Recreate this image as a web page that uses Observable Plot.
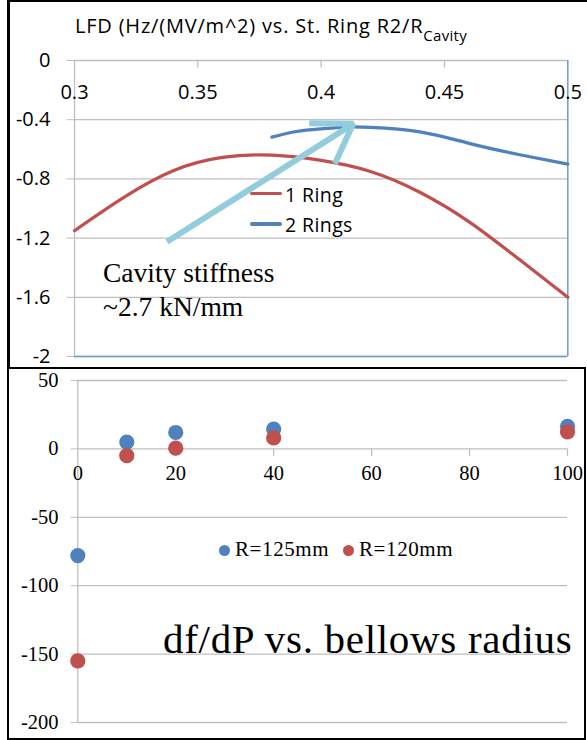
<!DOCTYPE html>
<html>
<head>
<meta charset="utf-8">
<script src="https://cdn.jsdelivr.net/npm/d3@7"></script>
<script src="https://cdn.jsdelivr.net/npm/@observablehq/plot@0.6"></script>
<style>
html, body { margin: 0; padding: 0; background: #fff; }
#root { position: relative; width: 587px; height: 740px; overflow: hidden; background: #fff; }
.abs { position: absolute; white-space: nowrap; line-height: 1; }
.sans { font-family: "Open Sans", sans-serif; color: #000; }
.serif { font-family: "Liberation Serif", "Times New Roman", serif; color: #000; }
.line { position: absolute; background: #000; }
</style>
</head>
<body>
<div id="root">
  <div id="topPlot" class="abs" style="left:0;top:0"></div>
  <div id="botPlot" class="abs" style="left:0;top:368px"></div>

  <!-- panel frames -->
  <div class="line" style="left:7px;top:0;width:2.5px;height:368px"></div>
  <div class="line" style="left:7px;top:0;width:580px;height:1.5px"></div>
  <div class="abs" style="left:7px;top:366.5px;width:579px;height:373.5px;border:2.5px solid #000;box-sizing:border-box"></div>

  <!-- top panel title -->
  <div class="abs sans" style="left:75px;top:15.5px;font-size:20px;letter-spacing:0.8px">LFD (Hz/(MV/m^2) vs. St. Ring R2/R<span style="font-size:15px;position:relative;top:8px;letter-spacing:0.3px">Cavity</span></div>

  <!-- top panel legend -->
  <div class="abs" style="left:250px;top:191.5px;width:32px;height:3.5px;background:#c0504d;border-radius:2px"></div>
  <div class="abs sans" id="lg1" style="left:285px;top:184.7px;font-size:19.5px;letter-spacing:0.4px"></div>
  <div class="abs" style="left:250px;top:222.3px;width:32px;height:3.5px;background:#4f81bd;border-radius:2px"></div>
  <div class="abs sans" id="lg2" style="left:285px;top:215px;font-size:19.5px;letter-spacing:0.4px"></div>

  <!-- annotation -->
  <div class="abs serif" style="left:103px;top:259px;font-size:27.5px">Cavity stiffness</div>
  <div class="abs serif" style="left:103px;top:292.5px;font-size:27.5px">~2.7 kN/mm</div>

  <!-- bottom legend -->
  <div class="abs" style="left:218.5px;top:544.5px;width:11px;height:11px;border-radius:50%;background:#4f81bd"></div>
  <div class="abs serif" id="lg3" style="left:235px;top:539.2px;font-size:21px;letter-spacing:0.6px"></div>
  <div class="abs" style="left:342.5px;top:544.5px;width:11px;height:11px;border-radius:50%;background:#c0504d"></div>
  <div class="abs serif" id="lg4" style="left:359px;top:539.2px;font-size:21px;letter-spacing:0.6px"></div>

  <!-- bottom big caption -->
  <div class="abs serif" style="left:163px;top:618.5px;font-size:41px;letter-spacing:0.7px">df/dP vs. bellows radius</div>
</div>

<script>
// ---------- Top chart data: LFD vs stiffening ring position ----------
const seriesNames = ["1 Ring", "2 Rings"];
const ring1X = [0.30, 0.32, 0.34, 0.36, 0.38, 0.40, 0.42, 0.44, 0.46, 0.48, 0.50];
const ring1Y = [-1.15, -0.925, -0.745, -0.655, -0.64, -0.675, -0.75, -0.89, -1.09, -1.34, -1.60];
const ring2X = [0.38, 0.39, 0.40, 0.41, 0.42, 0.44, 0.46, 0.48, 0.50];
const ring2Y = [-0.518, -0.48, -0.462, -0.45, -0.452, -0.482, -0.56, -0.635, -0.70];
const topXTicks = [0.3, 0.35, 0.4, 0.45, 0.5];
const topYTicks = [0, -0.4, -0.8, -1.2, -1.6, -2];
const arrowFrom = [0.3375, -1.225];
const arrowTo = [0.413, -0.428];

// ---------- Bottom chart data: df/dP vs bellows radius ----------
const bellowsNames = ["R=125mm", "R=120mm"];
const bellowsX = [0, 10, 20, 40, 100];
const r125 = [-78, 5, 12, 14.5, 16.5];
const r120 = [-155, -5, 0.5, 8, 12.5];
const botXTicks = [0, 20, 40, 60, 80, 100];
const botYTicks = [50, 0, -50, -100, -150, -200];

const RED = "#c0504d", BLUE = "#4f81bd", GRID = "#bfbfbf", FRAMEBLUE = "#6f9bd1", ARROW = "#93cddd";
const tickShape = { draw(ctx, l) { ctx.moveTo(0, 0); ctx.lineTo(0, -l); } };

document.getElementById("lg1").textContent = seriesNames[0];
document.getElementById("lg2").textContent = seriesNames[1];
document.getElementById("lg3").textContent = bellowsNames[0];
document.getElementById("lg4").textContent = bellowsNames[1];

const ring1 = ring1X.map((x, i) => ({x, y: ring1Y[i]}));
const ring2 = ring2X.map((x, i) => ({x, y: ring2Y[i]}));
const arrowData = [{x1: arrowFrom[0], y1: arrowFrom[1], x2: arrowTo[0], y2: arrowTo[1]}];

const topChart = Plot.plot({
  width: 587, height: 368,
  marginLeft: 74, marginRight: 19.7, marginTop: 60, marginBottom: 12,
  style: {fontFamily: "'Open Sans', sans-serif", fontSize: "20px", color: "#000", background: "transparent"},
  x: {domain: [0.3, 0.5], axis: null},
  y: {domain: [-2, 0], label: null},
  marks: [
    Plot.ruleY(topYTicks, {stroke: GRID, strokeWidth: 1.3}),
    Plot.axisY(topYTicks, {anchor: "left", tickSize: 7.5, tickPadding: 16.5, stroke: GRID, fill: "#000",
      fontSize: 20, tickFormat: d => String(d), label: null}),
    Plot.ruleX([0.3], {stroke: GRID, strokeWidth: 1.3}),
    Plot.vector(topXTicks.slice(1, -1), {x: d => d, y: 0, length: 6.5, rotate: 180, anchor: "start",
      shape: tickShape, stroke: GRID, strokeWidth: 1.3}),
    Plot.ruleX([0.5], {stroke: FRAMEBLUE, strokeWidth: 1.5}),
    Plot.ruleY([-2], {stroke: FRAMEBLUE, strokeWidth: 1.5}),
    Plot.text(topXTicks, {x: d => d, y: 0, dy: 31.7, text: d => String(d), fontSize: 20, fill: "#000"}),
    Plot.line(ring1, {x: "x", y: "y", stroke: RED, strokeWidth: 3.2, curve: "natural"}),
    Plot.line(ring2, {x: "x", y: "y", stroke: BLUE, strokeWidth: 3.2, curve: "natural"}),
    Plot.arrow(arrowData, {x1: "x1", y1: "y1", x2: "x2", y2: "y2", stroke: ARROW, strokeWidth: 6,
      headLength: 11, headAngle: 66, strokeLinejoin: "miter", strokeLinecap: "butt"})
  ]
});
document.getElementById("topPlot").appendChild(topChart);

const pts125 = bellowsX.map((x, i) => ({x, y: r125[i]}));
const pts120 = bellowsX.map((x, i) => ({x, y: r120[i]}));

const botChart = Plot.plot({
  width: 587, height: 372,
  marginLeft: 77.3, marginRight: 20, marginTop: 12, marginBottom: 18,
  style: {fontFamily: "'Liberation Serif', 'Times New Roman', serif", fontSize: "20px", color: "#000", background: "transparent"},
  x: {domain: [0, 100], axis: null},
  y: {domain: [-200, 50], label: null},
  marks: [
    Plot.ruleY(botYTicks, {stroke: GRID, strokeWidth: 1.3}),
    Plot.axisY(botYTicks, {anchor: "left", tickSize: 6.5, tickPadding: 12.8, stroke: GRID, fill: "#000",
      fontSize: 20.5, tickFormat: d => String(d), label: null}),
    Plot.ruleX([0], {stroke: GRID, strokeWidth: 1.3}),
    Plot.vector(botXTicks.slice(1), {x: d => d, y: 0, length: 6.5, rotate: 180, anchor: "start",
      shape: tickShape, stroke: GRID, strokeWidth: 1.3}),
    Plot.text(botXTicks, {x: d => d, y: 0, dy: 24.7, text: d => String(d), fontSize: 20.5, fill: "#000"}),
    Plot.dot(pts125, {x: "x", y: "y", r: 7.6, fill: BLUE, stroke: null}),
    Plot.dot(pts120, {x: "x", y: "y", r: 7.6, fill: RED, stroke: null})
  ]
});
document.getElementById("botPlot").appendChild(botChart);
</script>
</body>
</html>
